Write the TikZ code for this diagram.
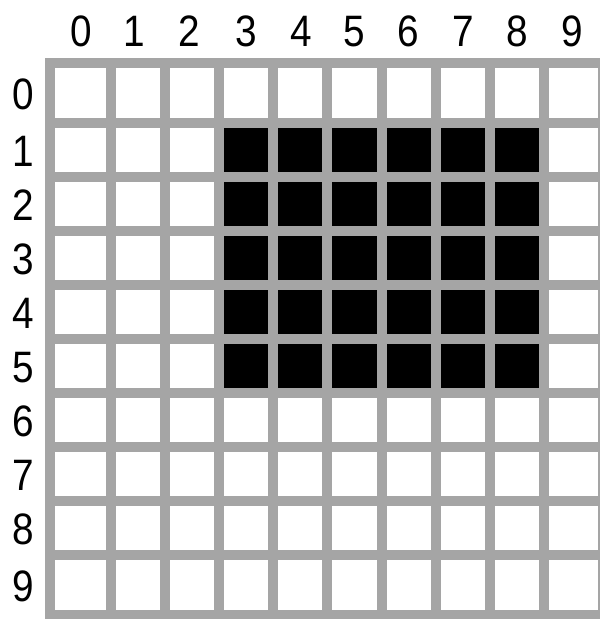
\documentclass[tikz,border=0pt]{standalone}
\usepackage{fontspec}
\setmainfont{Liberation Sans}
\definecolor{gridgray}{RGB}{165,165,165}
\begin{document}
\begin{tikzpicture}[x=1pt,y=-1pt,
  gridline/.style={draw=gridgray,line width=10pt,line cap=rect},
  lbl/.style={font=\fontsize{44}{44}\selectfont,anchor=base,inner sep=0pt,xscale=0.88}]
\useasboundingbox (0,0) rectangle (600,619);
\fill[white] (0,0) rectangle (600,619);
% filled block: columns 3-8, rows 1-5
\fill[black] (218.9,122.5) rectangle (544.1,393);
% grid lines
\foreach \x in {50,110.5,164.7,218.9,273.1,327.3,381.5,435.7,489.9,544.1,603}
  \draw[gridline] (\x,63) -- (\x,614.5);
\foreach \y in {63,122.5,176.6,230.7,284.8,338.9,393,447.1,501.2,555.3,614.5}
  \draw[gridline] (50,\y) -- (603,\y);
% column labels
\foreach \i/\x in {0/81.5,1/134,2/189.5,3/246.5,4/301.2,5/354.4,6/408.6,7/462.8,8/517,9/572}
  \node[lbl] (c\i) at (\x,46.5) {\i};
% row labels
\foreach \i/\y in {0/92.75,1/149.55,2/203.65,3/257.75,4/311.85,5/365.95,6/420.05,7/474.15,8/528.25,9/584.9}
  \node[lbl] (r\i) at (23,\y+16.5) {\i};
\end{tikzpicture}
\end{document}
